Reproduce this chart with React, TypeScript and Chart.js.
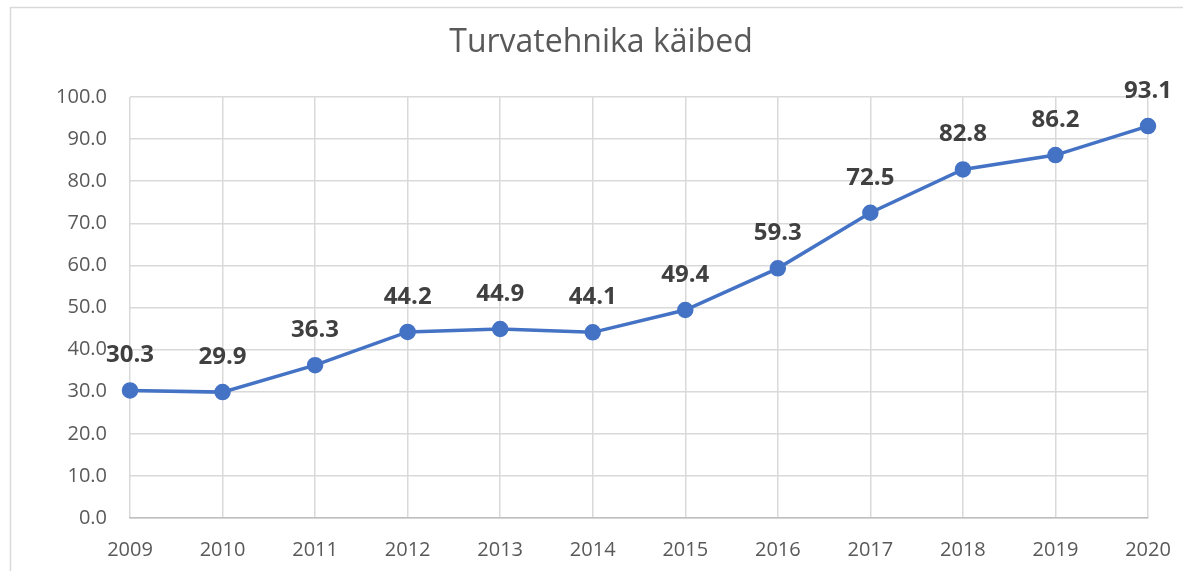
import React, { useEffect, useRef } from "react";
import { Chart, registerables } from "chart.js";

Chart.register(...registerables);

const TITLE = "Turvatehnika käibed";
const YEARS = ["2009", "2010", "2011", "2012", "2013", "2014", "2015", "2016", "2017", "2018", "2019", "2020"];
const VALUES = [30.3, 29.9, 36.3, 44.2, 44.9, 44.1, 49.4, 59.3, 72.5, 82.8, 86.2, 93.1];
const Y_MIN = 0;
const Y_MAX = 100;
const Y_STEP = 10;

const FONT = "'Open Sans', 'Noto Sans', sans-serif";

const frameAndTitle = {
  id: "frameAndTitle",
  beforeDraw(chart: any) {
    const { ctx, width, height } = chart;
    ctx.save();
    ctx.strokeStyle = "#d9d9d9";
    ctx.lineWidth = 1.5;
    ctx.beginPath();
    ctx.moveTo(10.5, height);
    ctx.lineTo(10.5, 7.5);
    ctx.lineTo(width, 7.5);
    ctx.stroke();
    ctx.font = `32px ${FONT}`;
    ctx.fillStyle = "#595959";
    ctx.textAlign = "center";
    ctx.textBaseline = "alphabetic";
    ctx.fillText(TITLE, 601, 52);
    ctx.restore();
  },
};

const dataLabels = {
  id: "dataLabels",
  afterDatasetsDraw(chart: any) {
    const { ctx } = chart;
    const meta = chart.getDatasetMeta(0);
    const data = chart.data.datasets[0].data as number[];
    ctx.save();
    ctx.font = `bold 24px ${FONT}`;
    ctx.fillStyle = "#404040";
    ctx.textAlign = "center";
    ctx.textBaseline = "middle";
    meta.data.forEach((pt: any, i: number) => {
      ctx.fillText(data[i].toFixed(1), pt.x, pt.y - 35);
    });
    ctx.restore();
  },
};

export default function App() {
  const ref = useRef<HTMLCanvasElement | null>(null);

  useEffect(() => {
    if (!ref.current) return;
    const chart = new Chart(ref.current, {
      type: "line",
      data: {
        labels: YEARS,
        datasets: [
          {
            data: VALUES,
            borderColor: "#4472C4",
            backgroundColor: "#4472C4",
            borderWidth: 3.5,
            pointRadius: 6.5,
            pointBackgroundColor: "#4472C4",
            pointBorderColor: "#4472C4",
            tension: 0,
          },
        ],
      },
      options: {
        animation: false,
        responsive: false,
        maintainAspectRatio: false,
        layout: { padding: { top: 97, right: 35, bottom: 0, left: 0 } },
        plugins: {
          legend: { display: false },
          tooltip: { enabled: false },
          title: { display: false },
        },
        scales: {
          x: {
            offset: false,
            grid: { color: "#d9d9d9", lineWidth: 1.5, drawTicks: false },
            border: { color: "#bfbfbf", width: 1.5 },
            ticks: { color: "#595959", font: { family: FONT, size: 20 }, padding: 20, maxRotation: 0 },
            afterFit: (s: any) => {
              s.height = 53;
              s.paddingLeft = 0;
              s.paddingRight = 0;
            },
          },
          y: {
            min: Y_MIN,
            max: Y_MAX,
            grid: { color: "#d9d9d9", lineWidth: 1.5, drawTicks: false },
            border: { display: false },
            ticks: {
              stepSize: Y_STEP,
              color: "#595959",
              font: { family: FONT, size: 20 },
              padding: 23,
              callback: (v: any) => Number(v).toFixed(1),
            },
            afterFit: (s: any) => {
              s.width = 130;
              s.paddingTop = 0;
              s.paddingBottom = 0;
            },
          },
        },
      },
      plugins: [frameAndTitle, dataLabels],
    });
    return () => chart.destroy();
  }, []);

  return (
    <div style={{ position: "fixed", left: 0, top: 0, width: 1183, height: 571, background: "#fff" }}>
      <canvas ref={ref} width={1183} height={571} style={{ display: "block", width: 1183, height: 571 }} />
    </div>
  );
}
